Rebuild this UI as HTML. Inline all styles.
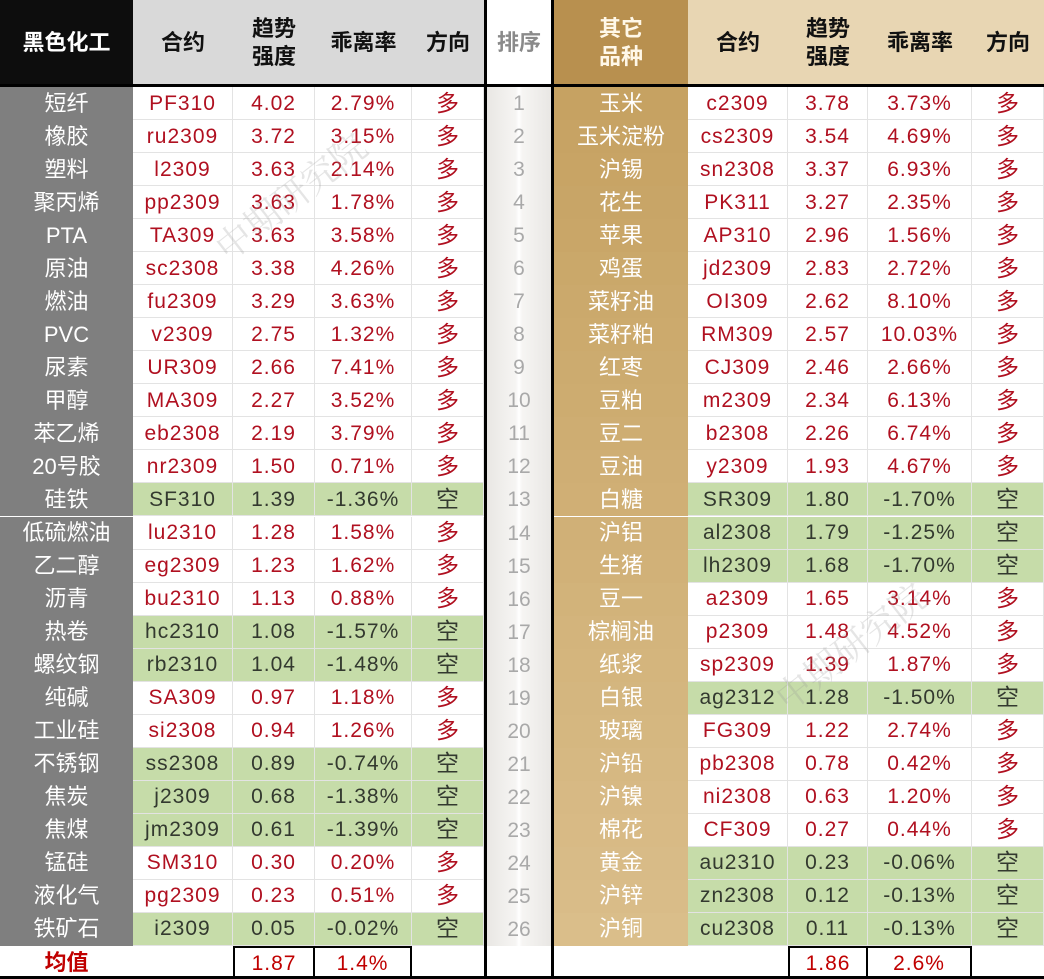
<!DOCTYPE html>
<html><head><meta charset="utf-8">
<style>
body{margin:0;width:1044px;height:979px;overflow:hidden;background:#fff;font-family:"Liberation Sans","Noto Sans CJK SC",sans-serif;position:relative}
.c{position:absolute;display:flex;align-items:center;justify-content:center;box-sizing:border-box;white-space:nowrap;line-height:1}
.h{font-weight:bold;font-size:22px;line-height:28px;text-align:center;color:#111}
.d{font-size:21px;border-right:1px solid #e3e3e3;border-bottom:1px solid #e3e3e3}
.num{font-family:"Liberation Sans","Noto Sans CJK SC",sans-serif;font-size:21px;letter-spacing:1px}
.wm{position:absolute;font-size:36px;color:rgba(150,150,150,0.25);transform:rotate(-38deg);font-family:"Noto Serif CJK SC",serif}
</style></head><body>
<div id="tbl"></div>
<script>
const leftNames=["短纤","橡胶","塑料","聚丙烯","PTA","原油","燃油","PVC","尿素","甲醇","苯乙烯","20号胶","硅铁","低硫燃油","乙二醇","沥青","热卷","螺纹钢","纯碱","工业硅","不锈钢","焦炭","焦煤","锰硅","液化气","铁矿石"];
const leftCodes=["PF310","ru2309","l2309","pp2309","TA309","sc2308","fu2309","v2309","UR309","MA309","eb2308","nr2309","SF310","lu2310","eg2309","bu2310","hc2310","rb2310","SA309","si2308","ss2308","j2309","jm2309","SM310","pg2309","i2309"];
const leftStrength=[4.02,3.72,3.63,3.63,3.63,3.38,3.29,2.75,2.66,2.27,2.19,1.50,1.39,1.28,1.23,1.13,1.08,1.04,0.97,0.94,0.89,0.68,0.61,0.30,0.23,0.05];
const leftDev=[2.79,3.15,2.14,1.78,3.58,4.26,3.63,1.32,7.41,3.52,3.79,0.71,-1.36,1.58,1.62,0.88,-1.57,-1.48,1.18,1.26,-0.74,-1.38,-1.39,0.20,0.51,-0.02];
const rightNames=["玉米","玉米淀粉","沪锡","花生","苹果","鸡蛋","菜籽油","菜籽粕","红枣","豆粕","豆二","豆油","白糖","沪铝","生猪","豆一","棕榈油","纸浆","白银","玻璃","沪铅","沪镍","棉花","黄金","沪锌","沪铜"];
const rightCodes=["c2309","cs2309","sn2308","PK311","AP310","jd2309","OI309","RM309","CJ309","m2309","b2308","y2309","SR309","al2308","lh2309","a2309","p2309","sp2309","ag2312","FG309","pb2308","ni2308","CF309","au2310","zn2308","cu2308"];
const rightStrength=[3.78,3.54,3.37,3.27,2.96,2.83,2.62,2.57,2.46,2.34,2.26,1.93,1.80,1.79,1.68,1.65,1.48,1.39,1.28,1.22,0.78,0.63,0.27,0.23,0.12,0.11];
const rightDev=[3.73,4.69,6.93,2.35,1.56,2.72,8.10,10.03,2.66,6.13,6.74,4.67,-1.70,-1.25,-1.70,3.14,4.52,1.87,-1.50,2.74,0.42,1.20,0.44,-0.06,-0.13,-0.13];
const avgLabels=["1.87","1.4%","1.86","2.6%"];

const T=document.getElementById('tbl');
function cell(x,y,w,h,txt,cls,bg,color,name,extra){
  const el=document.createElement('div');
  el.className='c '+cls;
  el.style.cssText=`left:${x}px;top:${y}px;width:${w}px;height:${h}px;background:${bg};color:${color};`+(extra||'');
  el.innerHTML=txt;
  
  
  T.appendChild(el);return el;
}
const HY=0,HH=86,RY=87,RH=(946-87)/26;
cell(0,HY,133,HH,'黑色化工','h','#0d0d0d','#fff','left-group-header');
cell(133,HY,100,HH,'合约','h','#d9d9d9','#111','left-contract-header');
cell(233,HY,82,HH,'趋势<br>强度','h','#d9d9d9','#111','left-strength-header');
cell(315,HY,97,HH,'乖离率','h','#d9d9d9','#111','left-deviation-header');
cell(412,HY,72,HH,'方向','h','#d9d9d9','#111','left-direction-header');
cell(484,HY,70,HH,'排序','h','#fff','#8a8a8a','rank-header','border-left:3px solid #000;border-right:3px solid #000;');
cell(554,HY,134,HH,'其它<br>品种','h','#b8904f','#fff8e8','right-group-header');
cell(688,HY,100,HH,'合约','h','#e8d6b3','#111','right-contract-header');
cell(788,HY,80,HH,'趋势<br>强度','h','#e8d6b3','#111','right-strength-header');
cell(868,HY,104,HH,'乖离率','h','#e8d6b3','#111','right-deviation-header');
cell(972,HY,72,HH,'方向','h','#e8d6b3','#111','right-direction-header');
const line=document.createElement('div');line.style.cssText='position:absolute;left:0;top:84px;width:1044px;height:3px;background:#000';


T.appendChild(line);
const rk=document.createElement('div');
rk.style.cssText=`position:absolute;left:484px;top:${RY}px;width:70px;height:${946-RY}px;background:linear-gradient(90deg,#e9e7e4 0%,#f6f5f3 45%,#fff 50%,#f6f5f3 55%,#e9e7e4 100%);border-left:3px solid #000;border-right:3px solid #000;box-sizing:border-box`;


T.appendChild(rk);
const fmt=v=>v.toFixed(2);
function side(names,codes,str,dev,x0,widths,nameBgFn,prefix){
  for(let i=0;i<names.length;i++){
    const y=RY+i*RH, long=dev[i]>=0;
    const bg=long?'#fff':'#c6dca9', col=long?'#b01020':'#33392f';
    cell(x0[0],y,widths[0],RH,names[i],'','transparent','#fff',prefix+'-name-'+i,`background:${nameBgFn(i)};font-size:22px;`);
    cell(x0[1],y,widths[1],RH,codes[i],'d num',bg,col,prefix+'-contract-'+i);
    cell(x0[2],y,widths[2],RH,fmt(str[i]),'d num',bg,col,prefix+'-strength-'+i);
    cell(x0[3],y,widths[3],RH,fmt(dev[i])+'%','d num',bg,col,prefix+'-deviation-'+i);
    cell(x0[4],y,widths[4],RH,long?'多':'空','d',bg,col,prefix+'-direction-'+i,'font-size:23px;');
  }
}
side(leftNames,leftCodes,leftStrength,leftDev,[0,133,233,315,412],[133,100,82,97,72],()=>'#7f7f7f','left');
side(rightNames,rightCodes,rightStrength,rightDev,[554,688,788,868,972],[134,100,80,104,72],i=>`rgb(${Math.round(198+i*0.8)},${Math.round(162+i*1.1)},${Math.round(98+i*1.6)})`,'right');
for(let i=0;i<26;i++){
  cell(484,RY+i*RH,70,RH,String(i+1),'','transparent','#a9a9a9','rank-'+(i+1),'font-size:21px;');
}
const AY=946,AH=33;
cell(0,AY,133,AH,'均值','','#fff','#c00000','left-average-label','font-weight:bold;font-size:22px;');
cell(233,AY,82,AH,avgLabels[0],'num','#fff','#c00000','left-average-strength','border:2px solid #000;border-bottom:none;');
cell(313,AY,99,AH,avgLabels[1],'num','#fff','#c00000','left-average-deviation','border:2px solid #000;border-bottom:none;');
cell(788,AY,80,AH,avgLabels[2],'num','#fff','#c00000','right-average-strength','border:2px solid #000;border-bottom:none;');
cell(866,AY,106,AH,avgLabels[3],'num','#fff','#c00000','right-average-deviation','border:2px solid #000;border-bottom:none;');
const rb=document.createElement('div');rb.style.cssText='position:absolute;left:484px;top:946px;width:70px;height:33px;border-left:3px solid #000;border-right:3px solid #000;box-sizing:border-box';


T.appendChild(rb);
const bl=document.createElement('div');bl.style.cssText='position:absolute;left:0;top:976px;width:1044px;height:3px;background:#000';


T.appendChild(bl);
[[200,170],[760,620]].forEach((p,k)=>{
  const w=document.createElement('div');w.className='wm';w.textContent='中期研究院';
  w.style.left=p[0]+'px';w.style.top=p[1]+'px';
  
  
  T.appendChild(w);
});
</script>
</body></html>
